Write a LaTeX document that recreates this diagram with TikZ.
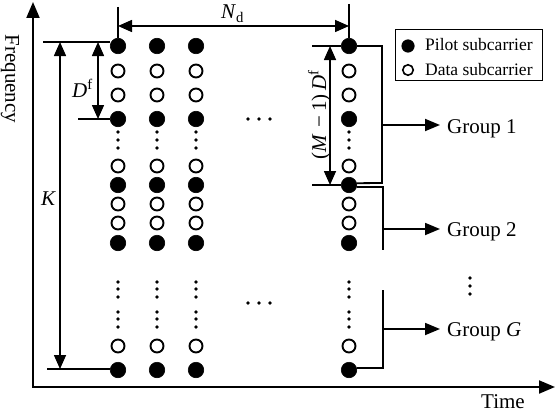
\documentclass[tikz,border=0pt]{standalone}
\usepackage{fontspec}
\setmainfont{Liberation Serif}
\usetikzlibrary{arrows.meta}
\begin{document}
\begin{tikzpicture}[x=1pt,y=-1pt,
  pilotc/.style={circle,draw=black,fill=black,line width=0.6pt,minimum size=15.5pt,inner sep=0pt},
  datac/.style={circle,draw=black,fill=white,line width=1.9pt,minimum size=13pt,inner sep=0pt},
  dimline/.style={line width=1.6pt},
  dimarrow/.style={line width=1.6pt,{Triangle[width=12pt,length=14pt]}-{Triangle[width=12pt,length=14pt]}},
  axisline/.style={line width=2pt,{Triangle[width=13pt,length=16pt]}-{Triangle[width=13pt,length=16pt]}},
  brack/.style={line width=1.8pt},
  grparrow/.style={line width=1.8pt,-{Triangle[width=12pt,length=15pt]}},
  lbl/.style={font=\fontsize{21}{24}\selectfont,inner sep=0pt},
  leg/.style={font=\fontsize{17.5}{20}\selectfont,inner sep=0pt},
  grp/.style={lbl,anchor=base west,inner xsep=7pt},
  smalldot/.style={circle,fill=black,inner sep=0pt,minimum size=3.6pt}
]
\useasboundingbox (0,0) rectangle (556,412);

% axes
\coordinate (O) at (33,387);
\coordinate (ytop) at (33,2);
\coordinate (xend) at (555,387);
\draw[axisline] (ytop) -- (O) -- (xend);
\node[lbl,rotate=-90] (flab) at (10,79) {Frequency};
\node[lbl,anchor=base] (tlab) at (503,408) {Time};

% subcarrier grid
\foreach \y/\t/\n in {46/pilotc/1,71/datac/2,95/datac/3,119/pilotc/4,166/datac/5,185/pilotc/6,204/datac/7,223/datac/8,243/pilotc/9,346/datac/10,370/pilotc/11}{
  \foreach \x/\c in {118/1,157/2,196/3,349/4}{
    \node[\t] (c\c r\n) at (\x,\y) {};
  }
}
\foreach \x in {118,157,196,349}{
  \foreach \y in {132,140,148,282,289,297,312,319,327}{
    \node[smalldot] at (\x,\y) {};
  }
}
\foreach \y in {119,303}{
  \foreach \x in {248,259,270}{
    \node[smalldot] at (\x,\y) {};
  }
}
\foreach \y in {278,286,294}{
  \node[smalldot] at (470,\y) {};
}

% N_d
\coordinate (nl) at (118,7);
\coordinate (nr) at (349,4);
\draw[dimline] (nl) -- (c1r1.north);
\draw[dimline] (nr) -- (c4r1.north);
\draw[dimarrow] (c1r1.north |- 0,26) -- (c4r1.north |- 0,26);
\node[lbl,anchor=base west] (nd) at (221,19) {\textit{N}\textsubscript{d}};

% K and D^f
\coordinate (kt) at (43,42);
\coordinate (kb) at (47,369);
\coordinate (dfb) at (78,119);
\draw[dimline] (kt) -- (c1r1.west |- kt);
\draw[dimline] (kb) -- (c1r11.west |- kb);
\draw[dimline] (dfb) -- (c1r4.west);
\draw[dimarrow] (60,42) -- (60,369);
\draw[dimarrow] (98,42) -- (98,119);
\node[lbl,anchor=base west] (klab) at (41,205) {\textit{K}};
\node[lbl,anchor=base west] (dflab) at (72,97) {\textit{D}\textsuperscript{f}};

% (M-1)D^f
\coordinate (mt) at (312,46);
\coordinate (mb) at (312,185);
\draw[dimline] (mt) -- (c4r1.west);
\draw[dimline] (mb) -- (c4r6.west);
\draw[dimarrow] (330,46) -- (330,185);
\node[lbl,rotate=90,anchor=base] (mlab) at (326,115) {(\textit{M}\,\,−\,1)\,\textit{D}\textsuperscript{f}};

% groups
\draw[brack] (c4r1.east) -| (382,183) -- ([yshift=1.8pt]c4r6.east);
\draw[brack] ([yshift=-1.8pt]c4r6.east) -| (383,250);
\draw[brack] (383,290) |- ([yshift=2pt]c4r11.east);
\node[grp] (g1) at (440,133) {Group 1};
\node[grp] (g2) at (440,236) {Group 2};
\node[grp] (gG) at (440,336) {Group \textit{G}};
\coordinate (b1) at (382,125);
\coordinate (b2) at (383,229);
\coordinate (bG) at (383,329);
\draw[grparrow] (b1) -- (b1 -| g1.west);
\draw[grparrow] (b2) -- (b2 -| g2.west);
\draw[grparrow] (bG) -- (bG -| gG.west);

% legend
\node[draw,line width=0.8pt,minimum width=147pt,minimum height=51pt,inner sep=0pt,anchor=north west] (legbox) at (395,29) {};
\node[pilotc,minimum size=12.5pt] (lp) at (408,46) {};
\node[datac,minimum size=10.5pt,line width=1.6pt] (ld) at (408,70) {};
\node[leg,anchor=base west] (lpt) at (425,51) {Pilot subcarrier};
\node[leg,anchor=base west] (ldt) at (425,75) {Data subcarrier};
\end{tikzpicture}
\end{document}
